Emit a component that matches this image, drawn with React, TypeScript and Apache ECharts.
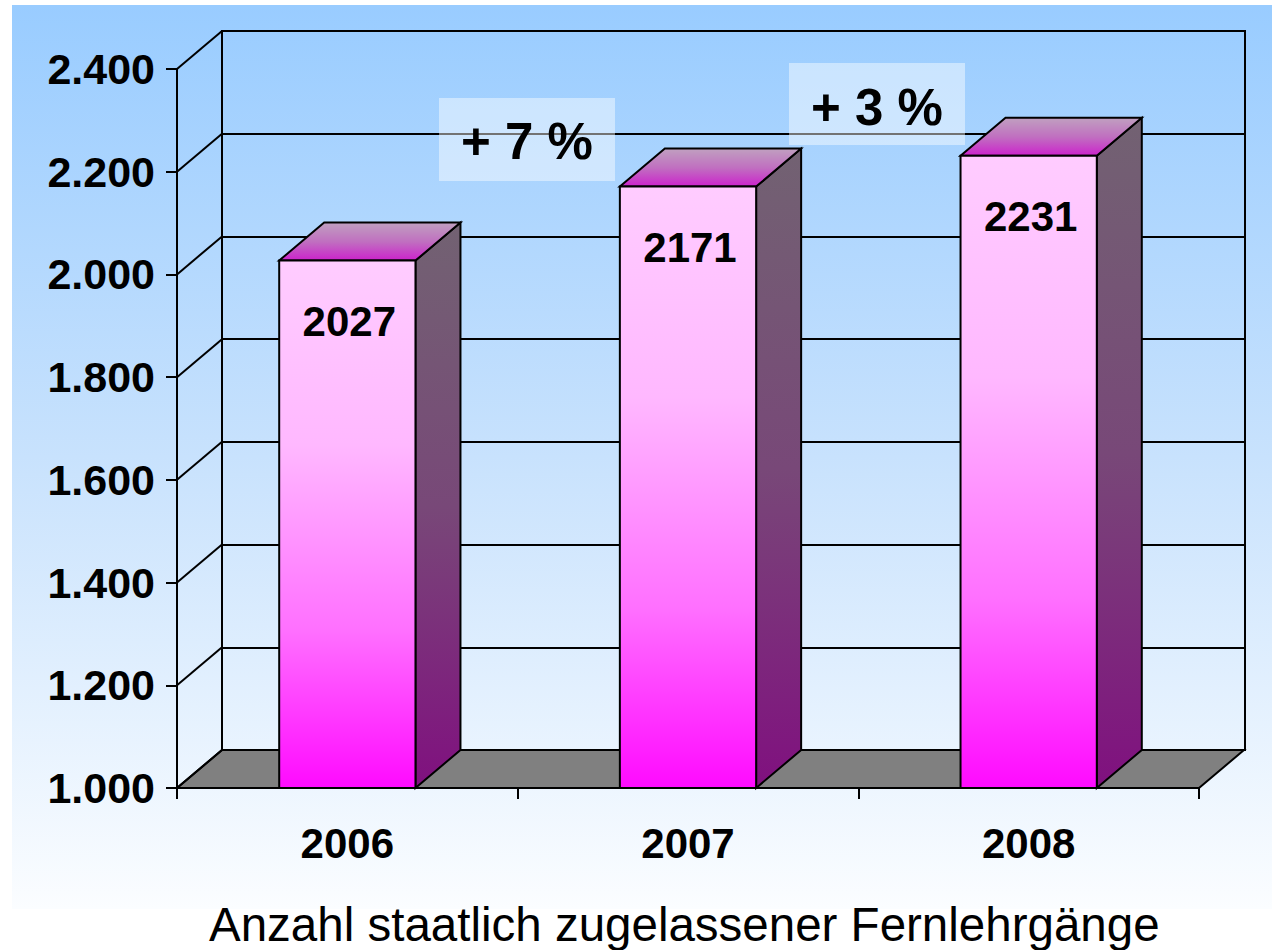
import React, { useEffect, useRef } from "react";
import * as echarts from "echarts";

// ---- data ----
const years = ["2006", "2007", "2008"];
const courseCounts = [2027, 2171, 2231];
const yTicks = [1000, 1200, 1400, 1600, 1800, 2000, 2200, 2400];
const yTickLabels = ["1.000", "1.200", "1.400", "1.600", "1.800", "2.000", "2.200", "2.400"];
const growthLabels = ["+ 7 %", "+ 3 %"];
const chartTitle = "Anzahl staatlich zugelassener Fernlehrgänge";

const Y_MIN = 1000;
const Y_MAX = 2400;
const Y_STEP = 200;
const DX = 45;
const DY = -38;
const FONT = "'Liberation Sans', Arial, Helvetica, sans-serif";

export default function App() {
  const ref = useRef<HTMLDivElement>(null);

  useEffect(() => {
    document.body.style.margin = "0";
    if (!ref.current) return;
    const chart = echarts.init(ref.current, undefined, { renderer: "svg" });

    const frontGrad = () =>
      new echarts.graphic.LinearGradient(0, 0, 0, 1, [
        { offset: 0, color: "#ffccff" },
        { offset: 0.35, color: "#ffb8ff" },
        { offset: 0.7, color: "#ff70ff" },
        { offset: 1, color: "#ff0aff" },
      ]);
    const sideGrad = () =>
      new echarts.graphic.LinearGradient(0, 0, 0, 1, [
        { offset: 0, color: "#726272" },
        { offset: 0.5, color: "#784878" },
        { offset: 1, color: "#80107f" },
      ]);
    const topGrad = () =>
      new echarts.graphic.LinearGradient(0, 0, 0, 1, [
        { offset: 0, color: "#c0a0c0" },
        { offset: 0.5, color: "#c070c0" },
        { offset: 1, color: "#cc22cc" },
      ]);

    const option: any = {
      animation: false,
      graphic: [
        {
          type: "rect",
          z: -100,
          shape: { x: 12, y: 5, width: 1260, height: 904 },
          style: {
            fill: new echarts.graphic.LinearGradient(0, 0, 0, 1, [
              { offset: 0, color: "#99ccff" },
              { offset: 0.5, color: "#c8e2fd" },
              { offset: 1, color: "#fbfdff" },
            ]),
          },
        },
        {
          type: "rect",
          z: 100,
          shape: { x: 439, y: 98, width: 176, height: 83 },
          style: { fill: "rgba(255,255,255,0.45)" },
        },
        {
          type: "text",
          z: 101,
          x: 527,
          y: 141,
          style: {
            text: growthLabels[0],
            font: `bold 51px ${FONT}`,
            fill: "#000",
            align: "center",
            verticalAlign: "middle",
          },
        },
        {
          type: "rect",
          z: 100,
          shape: { x: 789, y: 63, width: 176, height: 82 },
          style: { fill: "rgba(255,255,255,0.45)" },
        },
        {
          type: "text",
          z: 101,
          x: 877,
          y: 107,
          style: {
            text: growthLabels[1],
            font: `bold 51px ${FONT}`,
            fill: "#000",
            align: "center",
            verticalAlign: "middle",
          },
        },
      ],
      title: {
        text: chartTitle,
        left: 204,
        top: 895,
        textStyle: { fontFamily: FONT, fontSize: 47.5, fontWeight: "normal", color: "#000" },
      },
      grid: [
        { left: 177, top: 69, width: 1022, height: 719 },
        {
          left: 222,
          top: 31,
          width: 1023,
          height: 719,
          show: true,
          borderColor: "#000",
          borderWidth: 2,
          backgroundColor: "transparent",
        },
      ],
      xAxis: [
        {
          type: "category",
          gridIndex: 0,
          data: years,
          boundaryGap: true,
          axisLine: { show: true, lineStyle: { color: "#000", width: 2 } },
          axisTick: { show: true, length: 11, lineStyle: { color: "#000", width: 2 } },
          axisLabel: {
            color: "#000",
            fontFamily: FONT,
            fontWeight: "bold",
            fontSize: 42,
            margin: 34,
          },
          splitLine: { show: false },
          z: 5,
        },
        {
          type: "category",
          gridIndex: 1,
          data: years,
          show: false,
        },
      ],
      yAxis: [
        {
          type: "value",
          gridIndex: 0,
          min: Y_MIN,
          max: Y_MAX,
          interval: Y_STEP,
          axisLine: { show: true, lineStyle: { color: "#000", width: 2 } },
          axisTick: { show: true, length: 11, lineStyle: { color: "#000", width: 2 } },
          axisLabel: {
            color: "#000",
            fontFamily: FONT,
            fontWeight: "bold",
            fontSize: 43,
            margin: 22,
            formatter: (v: number) => {
              const i = yTicks.indexOf(v);
              return i >= 0 ? yTickLabels[i] : "";
            },
          },
          splitLine: { show: false },
          z: 5,
        },
        {
          type: "value",
          gridIndex: 1,
          min: Y_MIN,
          max: Y_MAX,
          interval: Y_STEP,
          axisLine: { show: false },
          axisTick: { show: false },
          axisLabel: { show: false },
          splitLine: { show: true, lineStyle: { color: "#000", width: 2 } },
        },
      ],
      series: [
        {
          // floor
          type: "custom",
          xAxisIndex: 0,
          yAxisIndex: 0,
          z: 1,
          data: [[0, Y_MIN]],
          renderItem: (params: any, api: any) => {
            const cs = params.coordSys;
            const yb = api.coord([0, Y_MIN])[1];
            const xl = cs.x;
            const xr = cs.x + cs.width;
            return {
              type: "polygon",
              shape: {
                points: [
                  [xl, yb],
                  [xr, yb],
                  [xr + DX, yb + DY],
                  [xl + DX, yb + DY],
                ],
              },
              style: { fill: "#808080", stroke: "#000", lineWidth: 2 },
            };
          },
        },
        {
          // left wall diagonals
          type: "custom",
          xAxisIndex: 0,
          yAxisIndex: 0,
          z: 1,
          data: yTicks.map((v) => [0, v]),
          renderItem: (params: any, api: any) => {
            const cs = params.coordSys;
            const y = api.coord([0, api.value(1)])[1];
            return {
              type: "line",
              shape: { x1: cs.x, y1: y, x2: cs.x + DX, y2: y + DY },
              style: { stroke: "#000", lineWidth: 2 },
            };
          },
        },
        {
          // 3D bars
          type: "custom",
          xAxisIndex: 0,
          yAxisIndex: 0,
          z: 3,
          data: courseCounts.map((v, i) => [i, v]),
          renderItem: (params: any, api: any) => {
            const idx = api.value(0);
            const val = api.value(1);
            const top = api.coord([idx, val]);
            const base = api.coord([idx, Y_MIN]);
            const bw = api.size([1, 0])[0] * 0.4;
            const x0 = top[0] - bw / 2;
            const x1 = top[0] + bw / 2;
            const yt = top[1];
            const yb = base[1];
            return {
              type: "group",
              children: [
                {
                  type: "polygon",
                  shape: {
                    points: [
                      [x1, yb],
                      [x1 + DX, yb + DY],
                      [x1 + DX, yt + DY],
                      [x1, yt],
                    ],
                  },
                  style: { fill: sideGrad(), stroke: "#000", lineWidth: 2 },
                },
                {
                  type: "polygon",
                  shape: {
                    points: [
                      [x0, yt],
                      [x1, yt],
                      [x1 + DX, yt + DY],
                      [x0 + DX, yt + DY],
                    ],
                  },
                  style: { fill: topGrad(), stroke: "#000", lineWidth: 2 },
                },
                {
                  type: "rect",
                  shape: { x: x0, y: yt, width: bw, height: yb - yt },
                  style: { fill: frontGrad(), stroke: "#000", lineWidth: 2 },
                },
                {
                  type: "text",
                  x: top[0] + 2,
                  y: yt + 61,
                  style: {
                    text: String(val),
                    font: `bold 42px ${FONT}`,
                    fill: "#000",
                    align: "center",
                    verticalAlign: "middle",
                  },
                },
              ],
            };
          },
        },
      ],
    };

    chart.setOption(option);
    return () => chart.dispose();
  }, []);

  return (
    <div
      ref={ref}
      style={{ position: "absolute", left: 0, top: 0, width: 1272, height: 950 }}
    />
  );
}
